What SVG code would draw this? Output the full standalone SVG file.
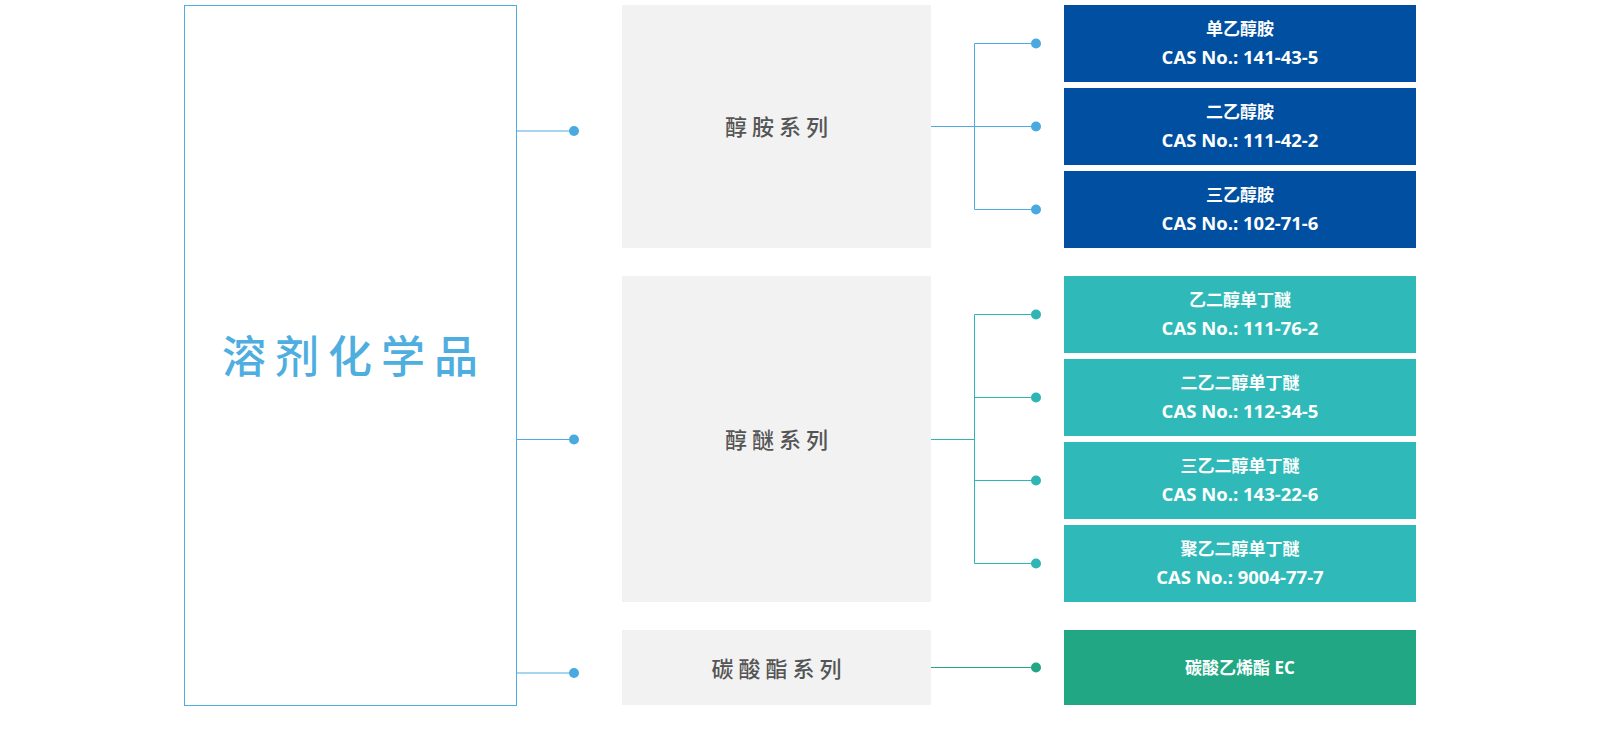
<svg xmlns="http://www.w3.org/2000/svg" width="1600" height="754" viewBox="0 0 1600 754">
<style>
.t{font-family:"Open Sans","Noto Sans CJK SC",sans-serif;text-anchor:middle}
.w1{fill:#fff;font-size:17px;font-weight:700}
.w2{fill:#fff;font-size:18.5px;font-weight:700}
.g{fill:#555;font-size:22px;font-weight:500;letter-spacing:5px;font-family:"Noto Sans CJK SC",sans-serif;text-anchor:middle}
.gray{fill:#f2f2f2}
.blue{fill:#004fa0}
.teal{fill:#2fbab9}
.green{fill:#21a783}
.lb{stroke:#4eaadf;stroke-width:1;fill:none}
.lt{stroke:#2fb5b3;stroke-width:1;fill:none}
.lg{stroke:#21a783;stroke-width:1;fill:none}
.db{fill:#4aaadf}
.dt{fill:#2fb5b3}
.dg{fill:#21a783}
</style>
<rect width="1600" height="754" fill="#fff"/>
<g id="root">
<rect x="184.5" y="5.5" width="332" height="700" fill="#fff" stroke="#4eaee0" stroke-width="1"/>
<text x="354.5" y="373" font-family="Noto Sans CJK SC,sans-serif" font-size="44" font-weight="500" letter-spacing="9" fill="#4eaee0" text-anchor="middle">溶剂化学品</text>
</g>
<g id="series1">
<rect class="gray" x="622" y="5" width="309" height="243"/>
<text class="g" x="779" y="135">醇胺系列</text>
</g>
<g id="series2">
<rect class="gray" x="622" y="276" width="309" height="326"/>
<text class="g" x="779" y="448">醇醚系列</text>
</g>
<g id="series3">
<rect class="gray" x="622" y="630" width="309" height="75"/>
<text class="g" x="779" y="677">碳酸酯系列</text>
</g>
<g id="p1"><rect class="blue" x="1064" y="5" width="352" height="77"/>
<text class="t w1" x="1240" y="35">单乙醇胺</text><text class="t w2" x="1240" y="64">CAS No.: 141-43-5</text></g>
<g id="p2"><rect class="blue" x="1064" y="88" width="352" height="77"/>
<text class="t w1" x="1240" y="118">二乙醇胺</text><text class="t w2" x="1240" y="147">CAS No.: 111-42-2</text></g>
<g id="p3"><rect class="blue" x="1064" y="171" width="352" height="77"/>
<text class="t w1" x="1240" y="201">三乙醇胺</text><text class="t w2" x="1240" y="230">CAS No.: 102-71-6</text></g>
<g id="p4"><rect class="teal" x="1064" y="276" width="352" height="77"/>
<text class="t w1" x="1240" y="306">乙二醇单丁醚</text><text class="t w2" x="1240" y="335">CAS No.: 111-76-2</text></g>
<g id="p5"><rect class="teal" x="1064" y="359" width="352" height="77"/>
<text class="t w1" x="1240" y="389">二乙二醇单丁醚</text><text class="t w2" x="1240" y="418">CAS No.: 112-34-5</text></g>
<g id="p6"><rect class="teal" x="1064" y="442" width="352" height="77"/>
<text class="t w1" x="1240" y="472">三乙二醇单丁醚</text><text class="t w2" x="1240" y="501">CAS No.: 143-22-6</text></g>
<g id="p7"><rect class="teal" x="1064" y="525" width="352" height="77"/>
<text class="t w1" x="1240" y="555">聚乙二醇单丁醚</text><text class="t w2" x="1240" y="584">CAS No.: 9004-77-7</text></g>
<g id="p8"><rect class="green" x="1064" y="630" width="352" height="75"/>
<text class="t w1" x="1240" y="674">碳酸乙烯酯 EC</text></g>
<g id="connectors">
<path class="lb" d="M516.5 131H574M516.5 439.5H574M516.5 673H574"/>
<circle class="db" cx="574" cy="131" r="5"/>
<circle class="db" cx="574" cy="439.5" r="5"/>
<circle class="db" cx="574" cy="673" r="5"/>
<path class="lb" d="M931 126.5H974.5M974.5 43.5V209.5M974.5 43.5H1036M974.5 126.5H1036M974.5 209.5H1036"/>
<circle class="db" cx="1036" cy="43.5" r="5"/>
<circle class="db" cx="1036" cy="126.5" r="5"/>
<circle class="db" cx="1036" cy="209.5" r="5"/>
<path class="lt" d="M931 439.5H974.5M974.5 314.5V563.5M974.5 314.5H1036M974.5 397.5H1036M974.5 480.5H1036M974.5 563.5H1036"/>
<circle class="dt" cx="1036" cy="314.5" r="5"/>
<circle class="dt" cx="1036" cy="397.5" r="5"/>
<circle class="dt" cx="1036" cy="480.5" r="5"/>
<circle class="dt" cx="1036" cy="563.5" r="5"/>
<path class="lg" d="M931 667.5H1036"/>
<circle class="dg" cx="1036" cy="667.5" r="5"/>
</g>
</svg>
